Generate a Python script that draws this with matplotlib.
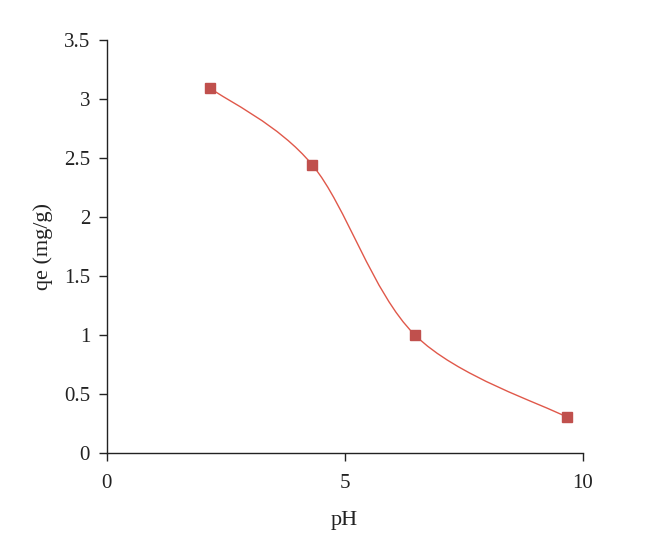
import matplotlib
matplotlib.use("Agg")
import matplotlib.pyplot as plt
from matplotlib.path import Path
from matplotlib.patches import PathPatch
import numpy as np

ph = [2.18, 4.32, 6.47, 9.67]
qe = [3.09, 2.44, 1.0, 0.3]
xticks = [0, 5, 10]
yticks = [0, 0.5, 1, 1.5, 2, 2.5, 3, 3.5]
ytick_labels = ["0", "0.5", "1", "1.5", "2", "2.5", "3", "3.5"]

plt.rcParams['font.family'] = ['Liberation Serif', 'DejaVu Serif']

fig = plt.figure(figsize=(6.6, 5.57), dpi=100)
ax = fig.add_axes([0.1617, 0.1873, 0.7212, 0.7409])

# Excel-style smoothed line (Catmull-Rom via cubic Bezier)
pts = np.column_stack([ph, qe])
n = len(pts)
verts = [tuple(pts[0])]
codes = [Path.MOVETO]
for i in range(n - 1):
    p0 = pts[i - 1] if i > 0 else pts[i]
    p1 = pts[i]
    p2 = pts[i + 1]
    p3 = pts[i + 2] if i + 2 < n else pts[i + 1]
    c1 = p1 + (p2 - p0) / 6.0
    c2 = p2 - (p3 - p1) / 6.0
    verts += [tuple(c1), tuple(c2), tuple(p2)]
    codes += [Path.CURVE4] * 3
path = Path(verts, codes)
ax.add_patch(PathPatch(path, facecolor='none', edgecolor='#e0584a', lw=1.0, zorder=2))

ax.plot(ph, qe, linestyle='none', marker='s', markersize=7,
        color='#c0504d', markeredgecolor='#c0504d', zorder=3)

ax.set_xlim(0, 10)
ax.set_ylim(0, 3.5)
ax.set_xticks(xticks)
ax.set_xticklabels([str(t) for t in xticks])
ax.set_yticks(yticks)
ax.set_yticklabels(ytick_labels)

for s in ['top', 'right']:
    ax.spines[s].set_visible(False)
for s in ['left', 'bottom']:
    ax.spines[s].set_color('#222222')
    ax.spines[s].set_linewidth(1.0)

ax.tick_params(direction='out', length=6, width=1.0, color='#222222',
               labelsize=15, labelcolor='#222222')
ax.tick_params(axis='y', pad=6)
ax.tick_params(axis='x', pad=9)

ax.set_xlabel('pH', fontsize=16, color='#222222', labelpad=13)
ax.set_ylabel('qe (mg/g)', fontsize=16, color='#222222', labelpad=8)

fig.savefig('out.png', dpi=100)
